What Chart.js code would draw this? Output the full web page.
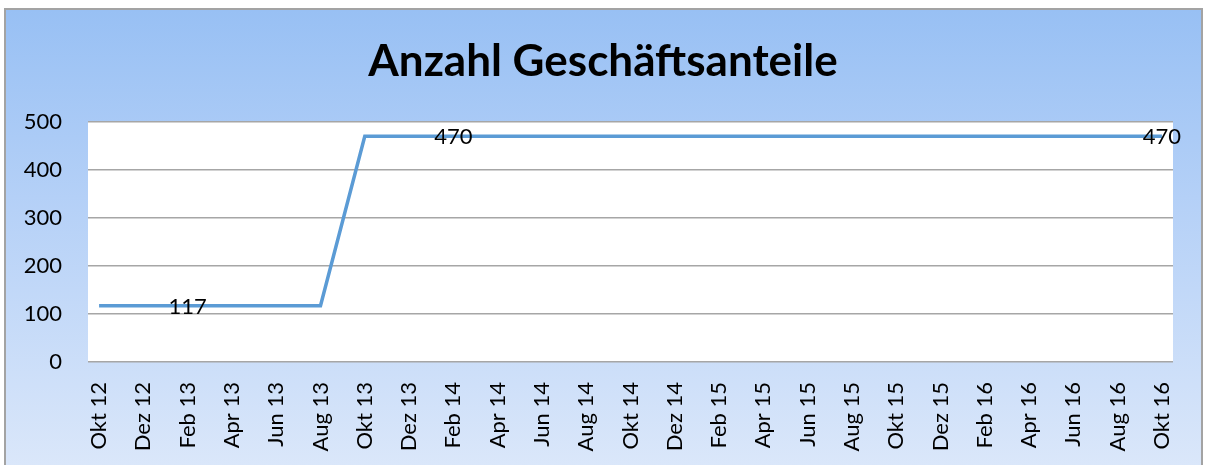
<!DOCTYPE html>
<html>
<head>
<meta charset="utf-8">
<script src="https://cdn.jsdelivr.net/npm/chart.js@4"></script>
<style>
    body { margin: 0; background: #ffffff; }
    #frame {
        position: absolute; left: 4px; top: 8px; width: 1199px; height: 470px;
        box-sizing: border-box;
        border: 2px solid #a3a3a3; border-bottom: none;
        background: linear-gradient(to bottom, #98c0f4 0%, #b4d0f7 40%, #dce8fa 100%);
    }
    #chart { position: absolute; left: 0; top: 0; }
</style>
</head>
<body>
<div id="frame"></div>
<canvas id="chart" width="1206" height="465"></canvas>
<script>
// Monthly categories, Okt 12 - Okt 16 (every other one is labelled)
const months = [
    'Okt 12', 'Nov 12', 'Dez 12', 'Jan 13', 'Feb 13', 'Mrz 13', 'Apr 13', 'Mai 13', 'Jun 13', 'Jul 13',
    'Aug 13', 'Sep 13', 'Okt 13', 'Nov 13', 'Dez 13', 'Jan 14', 'Feb 14', 'Mrz 14', 'Apr 14', 'Mai 14',
    'Jun 14', 'Jul 14', 'Aug 14', 'Sep 14', 'Okt 14', 'Nov 14', 'Dez 14', 'Jan 15', 'Feb 15', 'Mrz 15',
    'Apr 15', 'Mai 15', 'Jun 15', 'Jul 15', 'Aug 15', 'Sep 15', 'Okt 15', 'Nov 15', 'Dez 15', 'Jan 16',
    'Feb 16', 'Mrz 16', 'Apr 16', 'Mai 16', 'Jun 16', 'Jul 16', 'Aug 16', 'Sep 16', 'Okt 16'
];

// Known data points (other months are gaps, the line spans them)
const pointMonths = ['Okt 12', 'Feb 13', 'Aug 13', 'Okt 13', 'Feb 14', 'Okt 16'];
const pointValues = [117, 117, 117, 470, 470, 470];

// Points that carry a value label
const labelledMonths = ['Feb 13', 'Feb 14', 'Okt 16'];

const yTicks = [0, 100, 200, 300, 400, 500];

const series = months.map(m => {
    const i = pointMonths.indexOf(m);
    return i >= 0 ? pointValues[i] : null;
});

const FONT = 'Lato';

// white plot area
const plotBackground = {
    id: 'plotBackground',
    beforeDraw(chart) {
        const a = chart.chartArea;
        const ctx = chart.ctx;
        ctx.save();
        ctx.fillStyle = '#ffffff';
        ctx.fillRect(a.left, a.top, a.right - a.left, a.bottom - a.top);
        ctx.restore();
    }
};

// value labels centred on the points
const valueLabels = {
    id: 'valueLabels',
    afterDatasetsDraw(chart) {
        const ctx = chart.ctx;
        const meta = chart.getDatasetMeta(0);
        ctx.save();
        ctx.font = '22px ' + FONT;
        ctx.fillStyle = '#000000';
        ctx.textAlign = 'center';
        ctx.textBaseline = 'middle';
        labelledMonths.forEach(m => {
            const i = months.indexOf(m);
            const pt = meta.data[i];
            ctx.fillText(String(series[i]), pt.x, pt.y + 1);
        });
        ctx.restore();
    }
};

new Chart(document.getElementById('chart'), {
    type: 'line',
    data: {
        labels: months,
        datasets: [{
            data: series,
            borderColor: '#5b9bd5',
            borderWidth: 3.5,
            pointRadius: 0,
            tension: 0,
            spanGaps: true,
            fill: false
        }]
    },
    options: {
        responsive: false,
        animation: false,
        layout: { padding: 0 },
        plugins: {
            legend: { display: false },
            tooltip: { enabled: false },
            title: {
                display: true,
                text: 'Anzahl Geschäftsanteile',
                color: '#000000',
                font: { family: FONT, size: 44, weight: 'bold', lineHeight: 1.2 },
                padding: { top: 35, bottom: 34 }
            }
        },
        scales: {
            x: {
                offset: true,
                grid: { display: false },
                border: { display: false },
                ticks: {
                    autoSkip: false,
                    minRotation: 90,
                    maxRotation: 90,
                    padding: 12,
                    color: '#000000',
                    font: { family: FONT, size: 22 },
                    callback: function(value, index) {
                        return index % 2 === 0 ? months[index] : '';
                    }
                },
                afterFit: function(scale) { scale.height = 103; }
            },
            y: {
                min: 0,
                max: 500,
                afterBuildTicks: function(scale) {
                    scale.ticks = yTicks.map(v => ({ value: v }));
                },
                grid: { color: '#a6a6a6', lineWidth: 1.5, drawTicks: false },
                border: { display: false },
                ticks: {
                    padding: 26,
                    color: '#000000',
                    font: { family: FONT, size: 22 }
                },
                afterFit: function(scale) { scale.width = 88; }
            },
            // empty right-hand margin so the title stays centred on the frame
            spacer: {
                type: 'linear',
                position: 'right',
                min: 0,
                max: 1,
                grid: { display: false },
                border: { display: false },
                ticks: { display: false },
                afterFit: function(scale) { scale.width = 33; }
            }
        }
    },
    plugins: [plotBackground, valueLabels]
});
</script>
</body>
</html>
